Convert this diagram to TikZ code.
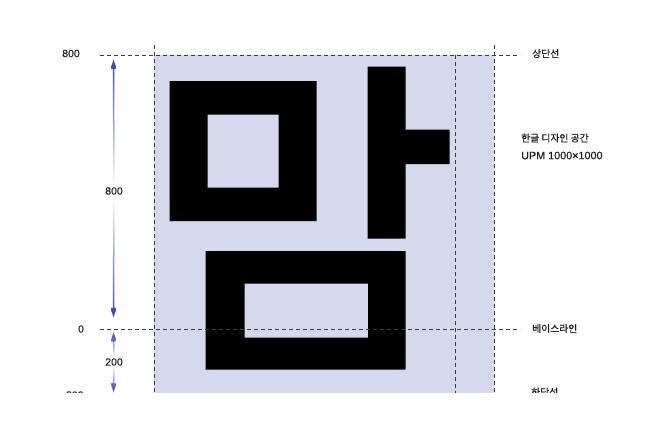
\documentclass[tikz,border=0pt]{standalone}
\usepackage{fontspec}
\setmainfont{Liberation Sans}
\newfontfamily\kr[FakeBold=0.6]{Noto Sans CJK KR}
\newfontfamily\num[FakeBold=0.3]{Liberation Sans}
\usetikzlibrary{arrows.meta,fadings}
\definecolor{lav}{HTML}{D5D9EE}
\definecolor{dimblue}{HTML}{3748B0}
\definecolor{guide}{HTML}{3A3A3A}
\definecolor{txt}{HTML}{1E1E1E}
\tikzfading[name=fadetotop, top color=transparent!0, middle color=transparent!35, bottom color=transparent!100]
\tikzfading[name=fadetobottom, top color=transparent!100, middle color=transparent!35, bottom color=transparent!0]
\tikzset{
  guideline/.style={draw=guide, line width=1pt, dash pattern=on 4pt off 3pt},
  glyph/.style={fill=black, even odd rule},
  numlabel/.style={font=\num\fontsize{10.5}{12}\selectfont, text=txt, inner sep=1pt},
  krlabel/.style={font=\kr\fontsize{9.8}{12}\selectfont, text=txt, inner sep=0pt, anchor=west},
  dimup/.style={draw=dimblue, line width=1.5pt, -{Latex[length=10pt,width=7.5pt]}, path fading=fadetotop},
  dimdown/.style={draw=dimblue, line width=1.5pt, -{Latex[length=10pt,width=7.5pt]}, path fading=fadetobottom},
}
\begin{document}
\begin{tikzpicture}[x=1pt,y=-1pt]
\useasboundingbox (0,0) rectangle (660,436);
\begin{scope}
\clip (0,0) rectangle (660,392);
% design space
\fill[lav] (154,55) rectangle (494,400);
% glyph
\path[glyph] (169.5,81) rectangle (316.5,221) (207.5,114.5) rectangle (278.5,187.5);
\path[glyph] (367.5,66.5) -- (405.5,66.5) -- (405.5,129.5) -- (449.5,129.5) -- (449.5,164) -- (405.5,164) -- (405.5,238.5) -- (367.5,238.5) -- cycle;
\path[glyph] (205.5,251) rectangle (405.5,369.5) (244.5,283.5) rectangle (368,337.5);
% guide lines
\coordinate (tl) at (100,55);
\coordinate (tr) at (520,55);
\coordinate (bl) at (100,329);
\coordinate (br) at (520,329);
\coordinate (v1t) at (154,45);
\coordinate (v1b) at (154,400);
\coordinate (v2t) at (455,55);
\coordinate (v2b) at (455,400);
\coordinate (v3t) at (494,45);
\coordinate (v3b) at (494,400);
\draw[guideline] (tl) -- (tr);
\draw[guideline] (bl) -- (br);
\draw[guideline] (v1t) -- (v1b);
\draw[guideline] (v2t) -- (v2b);
\draw[guideline] (v3t) -- (v3b);
% left labels
\node[numlabel] (n800) at (71,53.5) {800};
\node[numlabel] (n0) at (81,329) {0};
\node[numlabel] (nm200) at (73,395) {-200};
% dimension arrows
\node[numlabel] (d800) at (114,191) {800};
\coordinate (t800u) at (113.5,59);
\coordinate (t800d) at (113.5,318);
\draw[dimup] (d800.north) -- (t800u);
\draw[dimdown] (d800.south) -- (t800d);
\node[numlabel] (d200) at (114,362) {200};
\coordinate (t200u) at (113.5,331.5);
\coordinate (t200d) at (113.5,393);
\draw[dimup] (d200.north) -- (t200u);
\draw[dimdown] (d200.south) -- (t200d);
% right labels
\node[krlabel] (top) at (532,53.5) {상단선};
\node[krlabel] (space1) at (521,138) {한글 디자인 공간};
\node[anchor=west, inner sep=0pt, text=txt, font=\num\fontsize{10.8}{12}\selectfont] (space2) at (521,155.5) {UPM 1000×1000};
\node[krlabel] (base) at (532,328.5) {베이스라인};
\node[krlabel] (bottom) at (531,392) {하단선};
\end{scope}
\end{tikzpicture}
\end{document}
